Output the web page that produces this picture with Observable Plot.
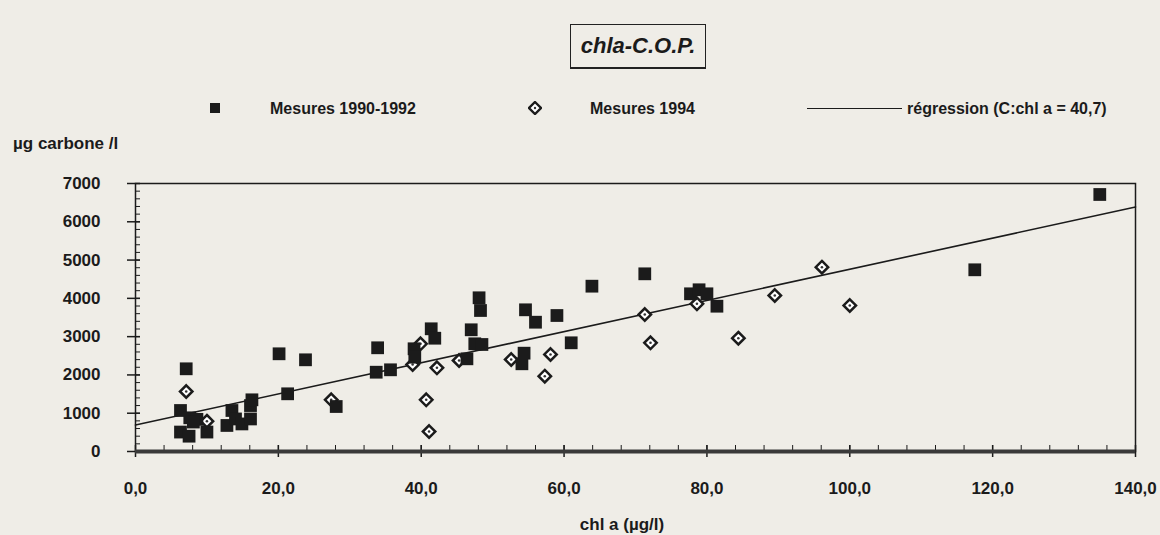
<!DOCTYPE html>
<html><head><meta charset="utf-8">
<script src="https://cdn.jsdelivr.net/npm/d3@7"></script>
<script src="https://cdn.jsdelivr.net/npm/@observablehq/plot@0.6"></script>
<style>
html,body{margin:0;padding:0;background:#efede7;}
#wrap{position:relative;width:1160px;height:535px;font-family:"Liberation Sans",Arial,sans-serif;color:#1b1b1b;overflow:hidden;}
#chart{position:absolute;left:0;top:0;}
.t{position:absolute;white-space:nowrap;font-weight:bold;font-size:16px;line-height:1;}
#title{position:absolute;left:570px;top:24px;width:134px;height:42px;border:1.5px solid #222;border-bottom-width:2px;display:flex;align-items:center;justify-content:center;font-style:italic;font-weight:bold;font-size:22px;}
.lsq{position:absolute;width:10px;height:10px;background:#1b1b1b;}
.lline{position:absolute;height:0;border-top:1.5px solid #1b1b1b;}
</style></head>
<body>
<div id="wrap">
  <div id="chart"></div>
  <div id="title">chla-C.O.P.</div>
  <div class="lsq" style="left:210px;top:103px;"></div>
  <div class="t" id="l1" style="left:270px;top:101px;"></div>
  <svg style="position:absolute;left:528px;top:101px" width="14" height="14"><polygon points="7,1 13,7 7,13 1,7" fill="#fff" stroke="#1b1b1b" stroke-width="2.4"/><circle cx="7" cy="7" r="1.2" fill="#333"/></svg>
  <div class="t" id="l2" style="left:590px;top:101px;"></div>
  <div class="lline" style="left:807px;top:108px;width:95px;"></div>
  <div class="t" id="l3" style="left:907px;top:101px;"></div>
  <div class="t" id="ylab" style="left:13px;top:135px;font-size:17px;"></div>
  <div class="t" id="xlab" style="left:622px;top:516px;font-size:17px;transform:translateX(-50%);"></div>
</div>
<script>
// Series 1: Mesures 1990-1992 (filled squares)
const chl9092 = [7.1, 6.3, 7.6, 8.6, 8.1, 6.3, 7.5, 10.0, 12.8, 13.5, 14.0, 14.9, 16.1, 16.1, 16.3, 20.1, 21.3, 23.8, 28.1,
  33.9, 33.7, 35.7, 39.0, 39.1, 41.4, 41.9, 48.1, 48.3, 47.0, 47.5, 48.5, 46.4, 54.6, 56.0, 59.0, 54.4, 54.1,
  61.0, 63.9, 71.3, 77.7, 78.9, 80.0, 81.4, 117.5, 135.0];
const cop9092 = [2160, 1071, 880, 840, 770, 508, 400, 508, 680, 1071, 850, 720, 850, 1200, 1350, 2552, 1507, 2395, 1175,
  2709, 2071, 2134, 2683, 2463, 3205, 2959, 4015, 3683, 3179, 2813, 2795, 2421, 3701, 3377, 3552, 2568, 2291,
  2839, 4318, 4641, 4119, 4224, 4119, 3795, 4746, 6713];
// Series 2: Mesures 1994 (open diamonds)
const chl94 = [7.1, 10.0, 27.4, 39.9, 38.8, 42.2, 40.7, 41.1, 45.3, 52.6, 58.1, 57.3, 71.3, 72.1, 78.6, 84.4, 89.5, 96.1, 100.0];
const cop94 = [1567, 791, 1350, 2813, 2272, 2186, 1350, 522, 2377, 2403, 2534, 1967, 3578, 2839, 3858, 2959, 4075, 4814, 3814];
// Regression (C:chl a = 40,7)
const regSlope = 40.7;
const regIntercept = 690;
const regX = [0, 140];
// Ticks and labels
const xTicks = [0, 20, 40, 60, 80, 100, 120, 140];
const yTicks = [0, 1000, 2000, 3000, 4000, 5000, 6000, 7000];
const titleText = "chla-C.O.P.";
const legendLabels = ["Mesures 1990-1992", "Mesures 1994", "régression (C:chl a = 40,7)"];
const xLabel = "chl a (µg/l)";
const yLabel = "µg carbone /l";

document.getElementById("title").textContent = titleText;
document.getElementById("l1").textContent = legendLabels[0];
document.getElementById("l2").textContent = legendLabels[1];
document.getElementById("l3").textContent = legendLabels[2];
document.getElementById("xlab").textContent = xLabel;
document.getElementById("ylab").textContent = yLabel;

const squares = chl9092.map((x, i) => ({x, y: cop9092[i]}));
const diamonds = chl94.map((x, i) => ({x, y: cop94[i]}));
const reg = regX.map(x => ({x, y: regIntercept + regSlope * x}));
const ink = "#1b1b1b";
const blank = () => "";

const chart = Plot.plot({
  width: 1160, height: 535,
  marginLeft: 135, marginRight: 25, marginTop: 183, marginBottom: 84,
  x: {domain: [0, 140]},
  y: {domain: [0, 7000]},
  style: {background: "transparent", fontFamily: '"Liberation Sans", Arial, sans-serif', fontSize: "17px", fontWeight: "bold", color: ink},
  marks: [
    Plot.frame({stroke: ink, strokeWidth: 1.5}),
    Plot.axisY(yTicks, {tickSize: 0, tickPadding: 35, tickFormat: d => String(d), label: null}),
    Plot.axisY(yTicks, {tickSize: 13, dx: 5, tickFormat: blank, label: null, strokeWidth: 1.5}),
    Plot.axisY(d3.range(0, 7001, 200), {tickSize: 5, dx: 5, tickFormat: blank, label: null}),
    Plot.axisX(xTicks, {tickSize: 0, tickPadding: 30, tickFormat: d => d.toFixed(1).replace(".", ","), label: null}),
    Plot.axisX(xTicks, {tickSize: 12, dy: -6, tickFormat: blank, label: null, strokeWidth: 1.5}),
    Plot.axisX(d3.range(0, 141, 4), {tickSize: 6, dy: -6, tickFormat: blank, label: null}),
    Plot.ruleY([0], {stroke: "#3a3a3a", strokeWidth: 4}),
    Plot.line(reg, {x: "x", y: "y", stroke: ink, strokeWidth: 1.6}),
    Plot.dot(diamonds, {x: "x", y: "y", symbol: "diamond2", r: 5.6, fill: "#fff", stroke: ink, strokeWidth: 2.5}),
    Plot.dot(diamonds, {x: "x", y: "y", r: 1.3, fill: "#333"}),
    Plot.dot(squares, {x: "x", y: "y", symbol: "square", r: 7.2, fill: ink})
  ]
});
document.getElementById("chart").appendChild(chart);
</script>
</body></html>
